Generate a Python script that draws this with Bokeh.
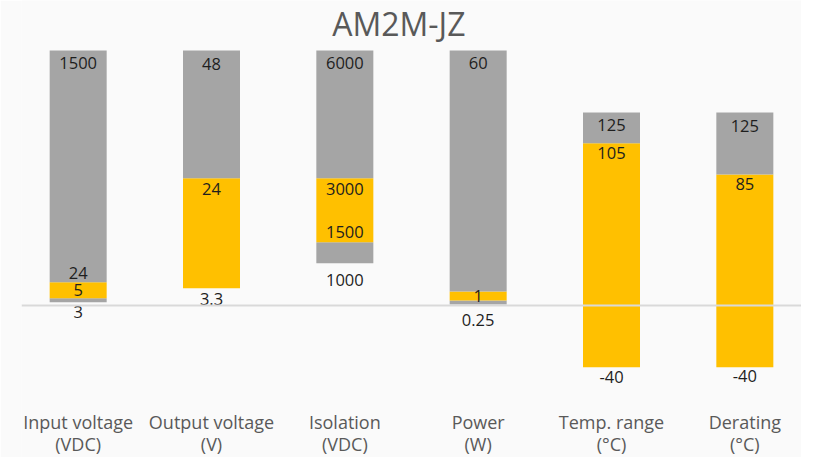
from bokeh.plotting import figure
from bokeh.models import FactorRange, Range1d, Span, ColumnDataSource
from bokeh.core.properties import value
from bokeh.embed import file_html
from bokeh.resources import INLINE

title_text = "AM2M-JZ"
categories = ["Input voltage\n(VDC)", "Output voltage\n(V)", "Isolation\n(VDC)",
              "Power\n(W)", "Temp. range\n(°C)", "Derating\n(°C)"]

# Segment boundaries in the chart's own scaled units
bar_bottom = [2.1, 11.2, 27.4, 0.6, -40.0, -40.0]
yellow_bottom = [4.7, 11.2, 41.0, 3.2, -40.0, -40.0]
yellow_top = [15.1, 82.4, 82.4, 9.1, 105.0, 84.8]
bar_top = [165.0, 165.0, 165.0, 165.0, 125.0, 125.0]

# Data labels: category index, boundary they belong to, text
label_cat = [0, 0, 0, 0, 1, 1, 1, 2, 2, 2, 2, 3, 3, 3, 4, 4, 4, 5, 5, 5]
label_level = ["bar_bottom", "yellow_bottom", "yellow_top", "bar_top",
               "bar_bottom", "yellow_top", "bar_top",
               "bar_bottom", "yellow_bottom", "yellow_top", "bar_top",
               "bar_bottom", "yellow_bottom", "bar_top",
               "bar_bottom", "yellow_top", "bar_top",
               "bar_bottom", "yellow_top", "bar_top"]
label_text = ["3", "5", "24", "1500",
              "3.3", "24", "48",
              "1000", "1500", "3000", "6000",
              "0.25", "1", "60",
              "-40", "105", "125",
              "-40", "85", "125"]

# style: pixel nudges of each label from its boundary (positive = down)
label_nudge = [10, -8, -9, 12,
               11, 11, 13,
               17, -10, 11, 12,
               15, -5, 12,
               10, 10, 13,
               9, 10, 14]

GRAY = "#A5A5A5"
YELLOW = "#FFC000"
BG = "#FAFAFA"

W, H = 801, 457
px_per_unit = 1.545
zero_px = 305
y_end = zero_px / px_per_unit
y_start = -(H - zero_px) / px_per_unit

x_range = FactorRange(factors=categories, range_padding=-0.075,
                      range_padding_units="absolute")
p = figure(width=W, height=H, x_range=x_range,
           y_range=Range1d(y_start, y_end), output_backend="svg",
           toolbar_location=None, min_border_left=21, min_border_right=0,
           min_border_top=0, min_border_bottom=0)
p.background_fill_color = BG
p.border_fill_color = BG
p.outline_line_color = None
p.xgrid.visible = False
p.ygrid.visible = False
p.yaxis.visible = False
p.xaxis.visible = False

src = ColumnDataSource(dict(cat=categories, b0=bar_bottom, b1=yellow_bottom,
                            b2=yellow_top, b3=bar_top))
bw = 0.4275
p.vbar(x="cat", bottom="b0", top="b1", width=bw, source=src, fill_color=GRAY, line_color=None)
p.vbar(x="cat", bottom="b1", top="b2", width=bw, source=src, fill_color=YELLOW, line_color=None)
p.vbar(x="cat", bottom="b2", top="b3", width=bw, source=src, fill_color=GRAY, line_color=None)

levels = {"bar_bottom": bar_bottom, "yellow_bottom": yellow_bottom,
          "yellow_top": yellow_top, "bar_top": bar_top}
lab = ColumnDataSource(dict(
    x=[categories[c] for c in label_cat],
    y=[levels[l][c] for c, l in zip(label_cat, label_level)],
    text=label_text,
    dy=label_nudge))
p.text(x="x", y="y", text="text", y_offset="dy", source=lab,
       text_align="center", text_baseline="middle",
       text_font=value("Open Sans"), text_font_size="16.5px", text_color="#1e1e1e")

# title inside the top of the frame
p.text(x=[2.905], y=[y_end], text=[title_text], y_offset=23,
       text_align="center", text_baseline="middle",
       text_font=value("Open Sans"), text_font_size="32px", text_color="#595959")

# category labels (two lines each) at the bottom of the chart
line1 = [c.split("\n")[0] for c in categories]
line2 = [c.split("\n")[1] for c in categories]
for txt, off in ((line1, -36), (line2, -14)):
    p.text(x=categories, y=[y_start] * len(categories), text=txt, y_offset=off,
           text_align="center", text_baseline="middle",
           text_font=value("Open Sans"), text_font_size="18px", text_color="#595959")

p.add_layout(Span(location=0, dimension="width", line_color="#D9D9D9", line_width=2))

open("out.html", "w").write(file_html(p, INLINE))
